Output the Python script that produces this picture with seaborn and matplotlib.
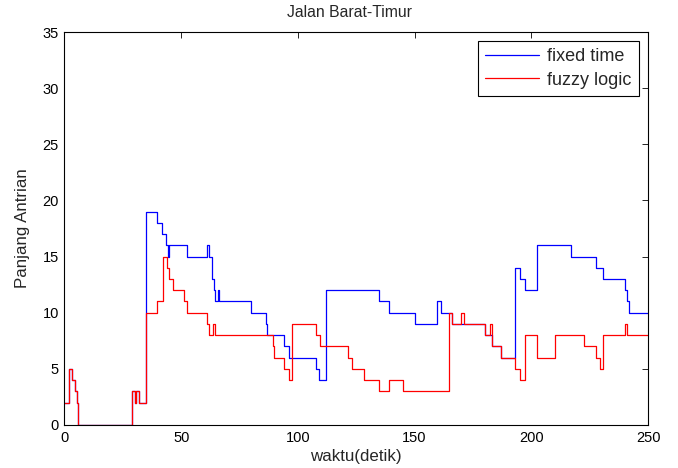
import matplotlib
matplotlib.use("Agg")
import matplotlib.pyplot as plt
import seaborn as sns
import pandas as pd

# change points (time, queue length) for stairs plot
fixed_t = [0, 1.9, 3.3, 4.5, 5.2, 5.6, 28.8, 30.2, 30.6, 31.8, 35.0, 39.5, 41.9, 43.5,
           44.2, 44.6, 52.3, 60.9, 62.0, 63.0, 64.0, 64.5, 65.9, 66.3, 79.7, 86.3, 86.9,
           94.2, 96.0, 107.6, 109.1, 112.0, 134.6, 139.1, 150.2, 159.4, 161.1, 166.1,
           180.1, 183.0, 186.9, 193.2, 195.1, 197.5, 202.5, 216.9, 227.9, 230.7, 240.0,
           241.0, 241.7, 250]
fixed_v = [2, 5, 4, 3, 2, 0, 3, 2, 3, 2, 19, 18, 17, 16,
           15, 16, 15, 16, 15, 13, 12, 11, 12, 11, 10, 9, 8,
           7, 6, 5, 4, 12, 11, 10, 9, 11, 10, 9,
           8, 7, 6, 14, 13, 12, 16, 15, 14, 13, 12,
           11, 10, 10]

fuzzy_t = [0, 1.9, 3.3, 4.5, 5.2, 5.6, 28.8, 30.2, 30.6, 31.8, 35.0, 39.5, 42.0, 44.0,
           44.8, 46.6, 51.3, 52.3, 60.9, 62.0, 63.6, 64.3, 89.2, 89.9, 94.2, 96.0, 97.3,
           107.6, 109.4, 121.4, 123.1, 128.3, 134.8, 139.1, 145.1, 164.8, 166.1, 169.8,
           171.2, 180.1, 182.3, 183.0, 186.9, 193.2, 195.1, 197.5, 202.5, 210.1, 222.6,
           227.9, 229.6, 230.7, 240.0, 241.0, 250]
fuzzy_v = [2, 5, 4, 3, 2, 0, 3, 2, 3, 2, 10, 11, 15, 14,
           13, 12, 11, 10, 9, 8, 9, 8, 7, 6, 5, 4, 9,
           8, 7, 6, 5, 4, 3, 4, 3, 10, 9, 10,
           9, 8, 9, 7, 6, 5, 4, 8, 6, 8, 7,
           6, 5, 8, 9, 8, 8]

series_names = ["fixed time", "fuzzy logic"]
title = "Jalan Barat-Timur"
xlabel = "waktu(detik)"
ylabel = "Panjang Antrian"
xticks = [0, 50, 100, 150, 200, 250]
yticks = [0, 5, 10, 15, 20, 25, 30, 35]

df = pd.concat([
    pd.DataFrame({"t": fixed_t, "v": fixed_v, "s": series_names[0]}),
    pd.DataFrame({"t": fuzzy_t, "v": fuzzy_v, "s": series_names[1]}),
], ignore_index=True)

sns.set_style("white")
plt.rcParams["font.family"] = ["Liberation Sans", "DejaVu Sans"]

fig = plt.figure(figsize=(6.78, 4.68), dpi=100)
ax = fig.add_axes([0.0951, 0.0919, 0.9558 - 0.0951, 0.9316 - 0.0919])

sns.lineplot(data=df, x="t", y="v", hue="s", palette=["#0000ff", "#ff0000"],
             estimator=None, sort=False, drawstyle="steps-post", linewidth=0.9,
             ax=ax)

ax.set_xlim(0, 250)
ax.set_ylim(0, 35)
ax.set_xticks(xticks)
ax.set_yticks(yticks)
ax.tick_params(direction="in", top=True, right=True, length=4, width=0.6,
               labelsize=10.5, colors="black", pad=4)
for sp in ax.spines.values():
    sp.set_visible(True)
    sp.set_color("black")
    sp.set_linewidth(0.8)
ax.set_title(title, fontsize=11.3, pad=11, x=0.488)
ax.set_xlabel(xlabel, fontsize=12.2, labelpad=3)
ax.set_ylabel(ylabel, fontsize=12.2, labelpad=9)

handles, labels = ax.get_legend_handles_labels()
leg = ax.legend(handles, labels, loc="upper right", fontsize=13, frameon=True,
                fancybox=False, edgecolor="black", framealpha=1,
                borderaxespad=0.5, handlelength=3.0, handletextpad=0.45,
                borderpad=0.4, labelspacing=0.35)
leg.get_frame().set_linewidth(0.8)

fig.savefig("out.png", dpi=100)
